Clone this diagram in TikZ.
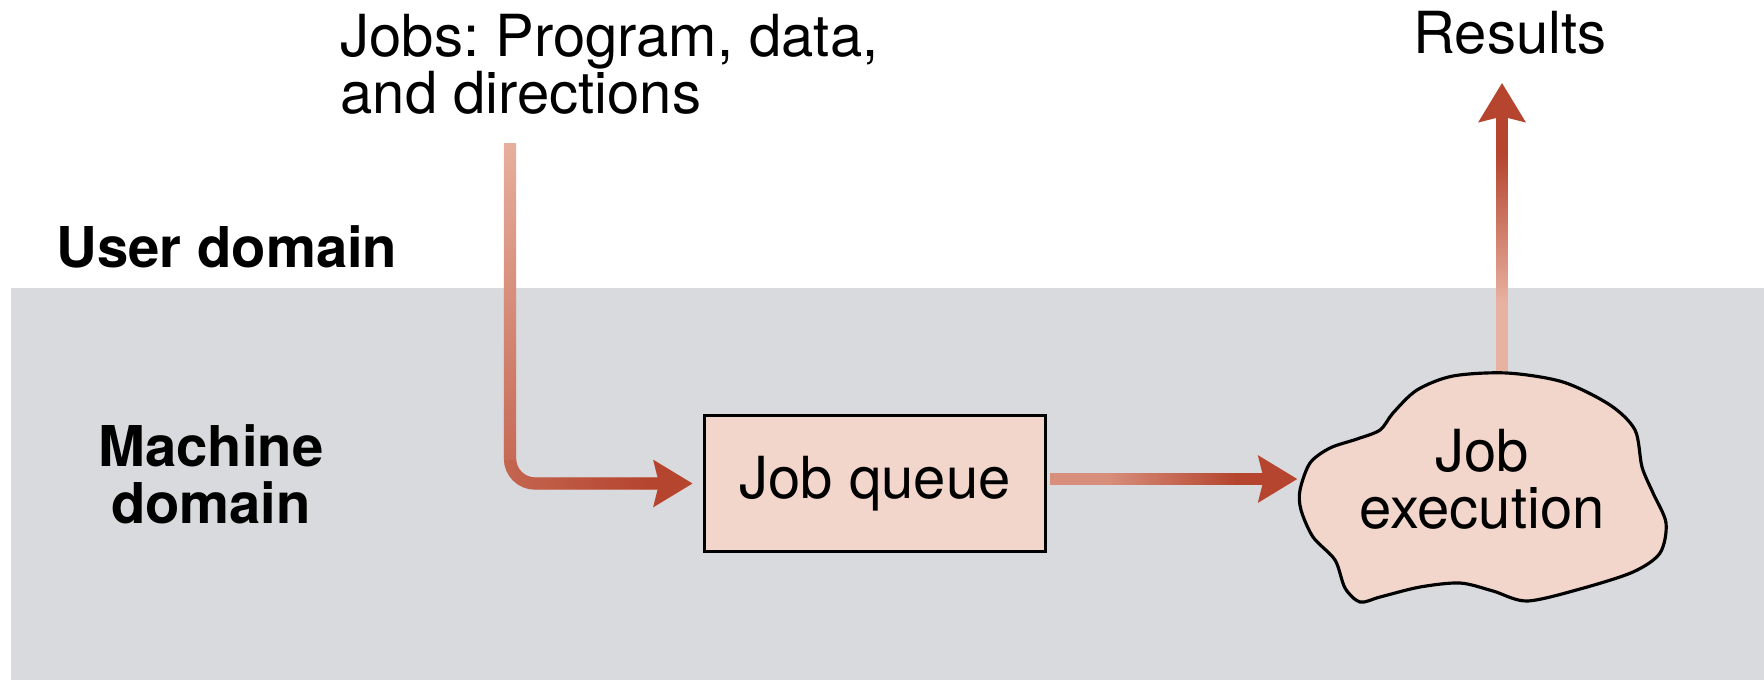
\documentclass[tikz,border=0pt]{standalone}
\usepackage{fontspec}
\setmainfont{TeX Gyre Heros}
\usepackage{tikz}
\usetikzlibrary{arrows.meta,positioning,calc,fadings}
\usepackage{xcolor}
\frenchspacing

\definecolor{flowred}{RGB}{181,69,47}
\definecolor{flowlight}{RGB}{232,178,160}
\definecolor{boxpink}{RGB}{242,214,203}
\definecolor{machinegray}{RGB}{217,218,221}

\begin{tikzfadingfrompicture}[name=fade flow L]
    \shade[top color=transparent!100, bottom color=transparent!35] (4.8,2.2) rectangle (5.4,5.5);
    \shade[left color=transparent!35, right color=transparent!0] (4.8,1.6) rectangle (6.5,2.2);
    \fill[transparent!0] (6.5,1.6) rectangle (7.2,2.2);
\end{tikzfadingfrompicture}
\tikzfading[name=fade flow right, left color=transparent!68, right color=transparent!0]
\tikzfading[name=fade flow up, bottom color=transparent!100, top color=transparent!0]

\begin{document}
\begin{tikzpicture}[
    every node/.style={font=\fontsize{16.5}{16.2}\selectfont, inner sep=0pt},
    domainlabel/.style={font=\fontsize{16}{16.2}\selectfont\bfseries},
    queuebox/.style={draw, line width=1.1pt, fill=boxpink, minimum width=3.41cm, minimum height=1.36cm},
    blob/.style={draw, line width=0.9pt, fill=boxpink},
    flow/.style={line width=3.5pt, draw=flowred, fit fading=false,
        preaction={draw=flowlight, line width=3.5pt},
        -{Stealth[length=11pt, width=13pt, inset=1.5pt]}}
]
    % Background
    \useasboundingbox (0,0) rectangle (17.64,6.80);
    \fill[machinegray] (0.11,0) rectangle (17.64,3.92);

    % Labels
    \node[anchor=north west, align=left] (jobs) at (3.40,6.66) {Jobs: Program, data,\\and directions};
    \node[anchor=base] (results) at (15.10,6.27) {Results};
    \node[domainlabel, anchor=base west] (user) at (0.56,4.13) {User domain};
    \node[domainlabel, anchor=north, align=center] (machine) at (2.11,2.56) {Machine\\domain};

    % Job queue
    \node[queuebox] (queue) at (8.75,1.965) {Job queue};

    % Job execution (blob)
    \draw[blob] plot[smooth cycle] coordinates {
        (13.00,1.90) (13.10,2.17) (13.30,2.32) (13.57,2.41) (13.80,2.50)
        (13.93,2.67) (14.17,2.90) (14.53,3.04) (15.07,3.07) (15.63,2.98)
        (16.10,2.75) (16.35,2.50) (16.42,2.13) (16.53,1.87) (16.66,1.57)
        (16.60,1.27) (16.33,1.08) (15.80,0.91) (15.27,0.79) (14.93,0.89)
        (14.60,0.97) (14.20,0.93) (13.80,0.83) (13.60,0.78) (13.45,0.92)
        (13.35,1.20) (13.13,1.43) (13.01,1.70)};
    \node[minimum width=3.68cm, minimum height=2.12cm, align=center] (exec) at (14.82,2.01) {Job\\execution};

    % Connectors
    \coordinate (jobsin) at (5.10,5.37);
    \coordinate (rtip) at (15.02,5.97);
    \draw[flow, rounded corners=0.25cm, shorten >=1mm, path fading=fade flow L,
        fading transform={shift={(6.0,3.55)}}] (jobsin) |- (queue.west);
    \draw[flow, shorten <=0.6pt, path fading=fade flow right,
        fading transform={shift={(11.72,2.01)}, xscale=0.73}] (queue.east |- exec.west) -- (exec.west);
    \draw[flow, shorten <=0.5pt, path fading=fade flow up,
        fading transform={shift={(15.02,4.52)}, yscale=0.84}] (exec.north -| rtip) -- (rtip);

\end{tikzpicture}
\end{document}
